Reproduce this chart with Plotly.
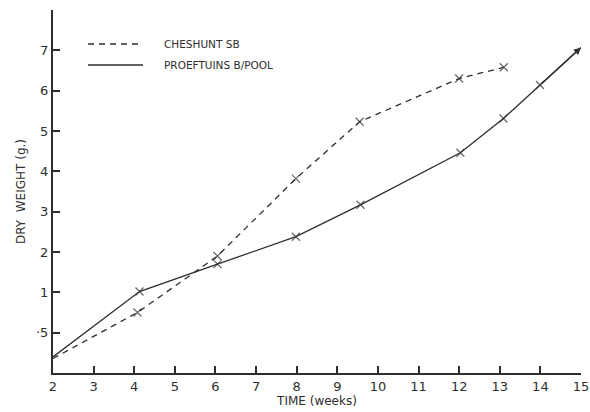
import plotly.graph_objects as go

# Dry weight (g) of two tomato varieties against time (weeks)
cheshunt_weeks = [2.0, 4.08, 6.05, 7.98, 9.55, 12.0, 13.1]
cheshunt_weight = [0.18, 0.75, 1.9, 3.82, 5.23, 6.3, 6.58]

proeftuins_weeks = [2.0, 4.13, 6.05, 7.98, 9.57, 12.03, 13.09, 13.99, 15.0]
proeftuins_weight = [0.2, 1.02, 1.7, 2.38, 3.17, 4.46, 5.31, 6.14, 7.07]

week_ticks = list(range(2, 16))
weight_ticks = [0.5, 1, 2, 3, 4, 5, 6, 7, 8]
weight_tick_text = ["·5", "1", "2", "3", "4", "5", "6", "7", ""]

series_names = ["CHESHUNT SB", "PROEFTUINS B/POOL"]


def to_axis(g):
    # Broken scale: 0.5-1 g is stretched to one full unit of the axis
    return g if g >= 1 else (g - 0.5) * 2


INK = "#2e2e2e"
FONT = "DejaVu Sans"

W, H = 590, 412
L, R, T, B = 53, 9, 10, 39


def px(x):
    return (x - L) / (W - L - R)


def py(y):
    return 1 - (y - T) / (H - T - B)


fig = go.Figure()

fig.add_trace(go.Scatter(
    x=cheshunt_weeks,
    y=[to_axis(v) for v in cheshunt_weight],
    mode="lines+markers",
    line=dict(color=INK, width=1.3, dash="6px,5px"),
    marker=dict(symbol=["circle"] + ["x-thin-open"] * (len(cheshunt_weeks) - 1),
                size=[0] + [8] * (len(cheshunt_weeks) - 1),
                color=INK, line=dict(color=INK, width=1.3)),
    cliponaxis=False,
    showlegend=False,
))

n = len(proeftuins_weeks)
pro_y = [to_axis(v) for v in proeftuins_weight]
fig.add_trace(go.Scatter(
    x=proeftuins_weeks,
    y=pro_y,
    mode="lines+markers",
    line=dict(color=INK, width=1.3),
    marker=dict(symbol=["circle"] + ["x-thin-open"] * (n - 1),
                size=[0] + [8] * (n - 2) + [0],
                color=INK, line=dict(color=INK, width=1.3)),
    cliponaxis=False,
    showlegend=False,
))

# Arrowhead at the end of the PROEFTUINS curve, pointing along its last segment
annotations = [
    dict(x=proeftuins_weeks[-1], y=pro_y[-1], ax=proeftuins_weeks[-2], ay=pro_y[-2],
         xref="x", yref="y", axref="x", ayref="y", text="", showarrow=True,
         arrowhead=2, arrowsize=1.1, arrowwidth=1.3, arrowcolor=INK),
]

# Hand-drawn style key in the upper left
shapes = [
    dict(type="line", xref="paper", yref="paper",
         x0=px(88), x1=px(143), y0=py(44), y1=py(44),
         line=dict(color=INK, width=1.3, dash="6px,5px")),
    dict(type="line", xref="paper", yref="paper",
         x0=px(88), x1=px(143), y0=py(65), y1=py(65),
         line=dict(color=INK, width=1.3)),
]
for i, yy in enumerate([44, 65]):
    annotations.append(dict(
        text=series_names[i], xref="paper", yref="paper", x=px(162), y=py(yy),
        xanchor="left", yanchor="middle", showarrow=False,
        font=dict(family=FONT, size=10.5, color=INK)))

fig.update_layout(
    width=W, height=H,
    margin=dict(l=L, r=R, t=T, b=B),
    paper_bgcolor="white", plot_bgcolor="white",
    font=dict(family=FONT, color=INK, size=12),
    shapes=shapes,
    annotations=annotations,
    xaxis=dict(
        range=[2, 15], tickvals=week_ticks, ticks="inside", ticklen=7,
        tickwidth=1.5, tickcolor=INK, showline=True, linecolor=INK, linewidth=2,
        showgrid=False, zeroline=False, ticklabeloverflow="allow", automargin=False,
        tickfont=dict(family=FONT, size=13, color=INK),
        title=dict(text="TIME (weeks)", font=dict(family=FONT, size=12, color=INK),
                   standoff=2),
    ),
    yaxis=dict(
        range=[-1, 8], tickvals=[to_axis(v) for v in weight_ticks],
        ticktext=weight_tick_text, ticks="inside", ticklen=7, tickwidth=1.5,
        tickcolor=INK, showline=True, linecolor=INK, linewidth=2,
        showgrid=False, zeroline=False, automargin=False,
        tickfont=dict(family=FONT, size=13, color=INK),
        title=dict(text="DRY  WEIGHT (g.)", font=dict(family=FONT, size=12, color=INK),
                   standoff=8),
    ),
)

fig.write_html("out.html")
